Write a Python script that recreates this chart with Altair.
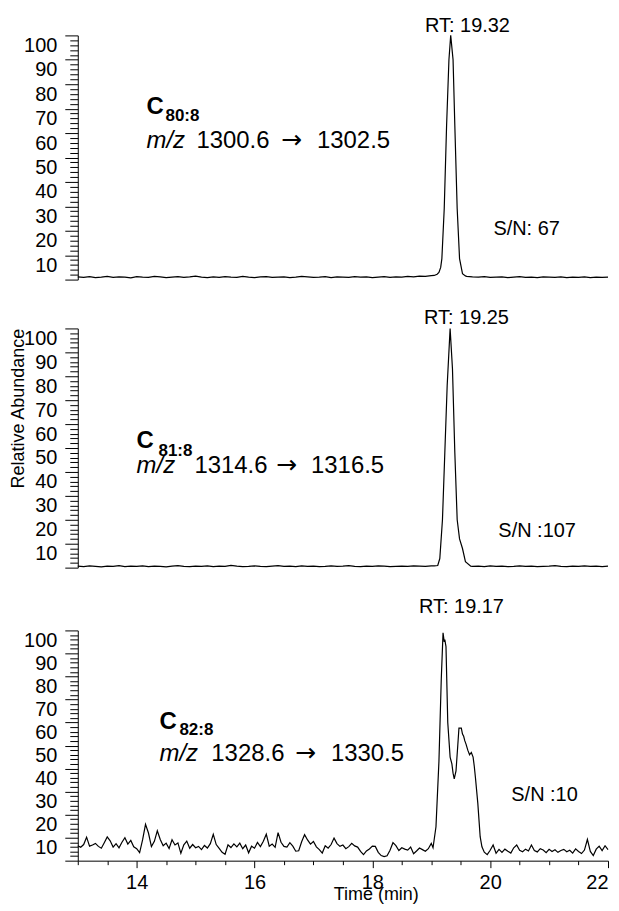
import altair as alt
import pandas as pd

FONT = "Liberation Sans"

# ---------------- data ----------------
# Panel 1: C80:8
top_pre_t = [round(13.0 + 0.1 * i, 2) for i in range(61)]
top_pre_v = [1.1, 0.9, 1.2, 0.8, 1.0, 1.3, 0.9, 1.1, 1.0, 0.7,
             1.2, 1.0, 0.9, 1.3, 1.1, 0.8, 1.0, 1.2, 0.9, 1.1,
             1.4, 1.0, 0.8, 1.1, 0.9, 1.2, 1.0, 0.9, 1.3, 1.0,
             0.8, 1.1, 1.2, 0.9, 1.0, 1.1, 0.8, 1.0, 1.3, 1.1,
             0.9, 1.0, 1.2, 0.8, 1.1, 1.0, 0.9, 1.2, 1.0, 1.1,
             0.8, 1.0, 1.2, 0.9, 1.1, 1.0, 1.3, 1.1, 1.4, 1.3,
             1.6]
top_pk_t = [19.05, 19.10, 19.13, 19.16, 19.18, 19.22, 19.26, 19.30, 19.33,
            19.37, 19.40, 19.44, 19.48, 19.53, 19.58]
top_pk_v = [1.7, 2.2, 2.9, 5.0, 8.6, 29, 63, 90, 100, 90, 63, 29, 8.6, 2.4, 1.5]
top_post_t = [round(19.6 + 0.1 * i, 2) for i in range(25)]
top_post_v = [1.3, 1.1, 1.0, 1.2, 0.9, 1.0, 1.1, 0.8, 1.0, 1.2,
              0.9, 1.0, 0.8, 1.1, 1.0, 0.9, 1.1, 0.8, 1.0, 0.9,
              1.1, 0.8, 1.0, 0.9, 1.0]

# Panel 2: C81:8
mid_pre_t = [round(13.0 + 0.1 * i, 2) for i in range(61)]
mid_pre_v = [0.6, 0.4, 0.7, 0.5, 0.3, 0.6, 0.5, 0.8, 0.4, 0.6,
             0.5, 0.7, 0.4, 0.6, 0.5, 0.3, 0.6, 0.8, 0.5, 0.4,
             0.6, 0.5, 0.7, 0.4, 0.6, 0.5, 0.9, 0.6, 0.4, 0.5,
             0.7, 0.5, 0.4, 0.6, 0.8, 0.5, 0.6, 0.4, 0.7, 0.5,
             0.6, 0.4, 0.5, 0.7, 0.5, 0.6, 0.8, 0.5, 0.4, 0.6,
             0.5, 0.7, 0.6, 0.4, 0.5, 0.6, 0.5, 0.7, 0.6, 0.5,
             0.7]
mid_pk_t = [19.05, 19.11, 19.145, 19.19, 19.23, 19.27, 19.32, 19.36, 19.40,
            19.44, 19.48, 19.53, 19.58, 19.67]
mid_pk_v = [0.7, 0.9, 3.8, 20, 48, 76, 100, 83, 48, 20, 12, 8, 2.5, 0.6]
mid_post_t = [round(19.7 + 0.1 * i, 2) for i in range(24)]
mid_post_v = [0.5, 0.6, 0.4, 0.7, 0.5, 0.6, 0.4, 0.5, 0.7, 0.5,
              0.6, 0.4, 0.5, 0.6, 0.8, 0.5, 0.4, 0.6, 0.5, 0.7,
              0.5, 0.6, 0.4, 0.6]

# Panel 3: C82:8
bot_pre_t = [round(13.0 + 0.05 * i, 2) for i in range(121)]
bot_pre_v = [6.5, 5.8, 7.0, 10.2, 6.3, 6.8, 7.5, 6.2, 5.4, 7.8,
             10.3, 8.6, 5.9, 7.4, 5.6, 8.0, 10.0, 7.2, 8.8, 6.0,
             5.2, 3.5, 9.0, 15.8, 12.0, 6.1, 8.4, 13.0, 9.2, 6.5,
             7.6, 5.3, 9.1, 6.8, 7.7, 3.2, 6.9, 8.5, 5.4, 7.0,
             5.6, 6.2, 4.8, 6.6, 5.5, 7.4, 11.4, 7.0, 5.3, 3.6,
             2.8, 6.9, 5.7, 7.3, 6.0, 7.6, 5.2, 6.8, 3.4, 6.3,
             5.4, 7.9, 6.1, 8.4, 11.5, 6.3, 7.2, 5.8, 12.2, 8.0,
             6.2, 5.9, 7.8, 6.3, 4.1, 4.3, 8.2, 11.3, 9.0, 7.2,
             8.3, 6.0, 4.8, 3.3, 6.5, 5.4, 7.0, 9.8, 7.4, 6.2,
             6.8, 5.2, 6.1, 7.5, 6.4, 5.9, 4.0, 2.6, 4.2, 5.1,
             6.3, 6.2, 3.6, 2.2, 1.8, 2.1, 4.5, 7.8, 6.5, 4.4,
             5.6, 5.0, 4.6, 5.9, 3.0, 4.2, 5.5, 4.8, 4.1, 5.2,
             7.5]
bot_pk_t = [19.03, 19.08, 19.13, 19.17, 19.20, 19.22, 19.23, 19.25, 19.28, 19.32,
            19.35, 19.37, 19.39, 19.42, 19.45, 19.47, 19.51, 19.53, 19.55, 19.57,
            19.59, 19.62, 19.65, 19.68, 19.71, 19.73, 19.75, 19.79, 19.83, 19.86,
            19.90]
bot_pk_v = [5.6, 14.7, 43, 79, 99, 95, 96, 93, 60, 45,
            42, 38, 35.5, 39, 50, 57.6, 57.6, 55, 54, 52,
            50.6, 48, 46, 47, 45, 41, 36, 25, 10.4, 6,
            3.7]
bot_post_t = [round(19.95 + 0.05 * i, 2) for i in range(42)]
bot_post_v = [2.6, 4.5, 6.8, 3.2, 4.9, 3.6, 5.0, 4.1, 3.3, 5.6,
              6.8, 4.5, 3.9, 5.0, 4.2, 6.8, 4.4, 3.8, 5.2, 4.6,
              3.5, 4.9, 4.0, 4.7, 3.6, 4.4, 4.9, 3.9, 4.5, 3.3,
              5.1, 4.0, 3.1, 4.6, 9.2, 4.0, 2.2, 5.0, 6.3, 4.4,
              6.5, 4.8]

# texts
compounds = ["80:8", "81:8", "82:8"]
mz_from = ["1300.6", "1314.6", "1328.6"]
mz_to = ["1302.5", "1316.5", "1330.5"]
rt_labels = ["RT: 19.32", "RT: 19.25", "RT: 19.17"]
sn_labels = ["S/N: 67", "S/N :107", "S/N :10"]

y_major_vals = list(range(10, 101, 10))
y_minor_vals = [v for v in range(2, 100, 2) if v % 10]
x_major_vals = [14, 16, 18, 20, 22]
x_minor_vals = [13 + 0.5 * i for i in range(19) if (13 + 0.5 * i) not in x_major_vals]

# ---------------- chart ----------------
W = 532
XS = alt.Scale(domain=[13, 22], nice=False, zero=False)
YS = alt.Scale(domain=[0, 100], nice=False, zero=False)


def y_major(title=None):
    kw = dict(orient="left", values=y_major_vals, tickSize=13, tickColor="black", tickWidth=1,
              domainColor="black", domainWidth=1, labelPadding=8,
              labelBaseline="top", labelFontSize=20, labelFont=FONT,
              labelColor="black", labelOverlap=False, format="d", grid=False)
    if title:
        kw.update(title=title, titleFontSize=18, titleFont=FONT,
                  titleFontWeight="normal", titleColor="black",
                  titleX=-59, titleY=80, titleAngle=270,
                  titleAlign="center", titleBaseline="middle")
    else:
        kw.update(title=None)
    return alt.Axis(**kw)


y_minor = alt.Axis(orient="left", values=y_minor_vals, tickSize=8, tickColor="black", tickWidth=1,
                   labels=False, domain=False, grid=False, title=None)
y_zero = alt.Axis(orient="left", values=[0], tickSize=13, tickColor="black", tickWidth=1,
                  labels=False, domain=False, grid=False, title=None)

x_major = alt.Axis(orient="bottom", values=x_major_vals, tickSize=7, tickColor="black", tickWidth=1,
                   domainColor="black", domainWidth=1, labelPadding=5,
                   labelFontSize=20, labelFont=FONT, labelColor="black",
                   labelFlush=True, labelOverlap=False, format="d", grid=False,
                   title="Time (min)", titleFontSize=18, titleFont=FONT,
                   titleFontWeight="normal", titleColor="black",
                   titleX=299, titleY=39, titleAlign="center", titleBaseline="alphabetic")
x_minor = alt.Axis(orient="bottom", values=x_minor_vals, tickSize=4, tickColor="black", tickWidth=1,
                   labels=False, domain=False, grid=False, title=None)


def txt(s, x, y, size, weight="normal", style="normal", align="left",
        baseline="alphabetic", font=FONT):
    return alt.Chart(pd.DataFrame({"s": [s]})).mark_text(
        font=font, fontSize=size, fontWeight=weight, fontStyle=style,
        align=align, baseline=baseline, color="black"
    ).encode(x=alt.value(x), y=alt.value(y), text="s:N")


def panel(i, t, v, h, show_x, y_title, pos):
    df = pd.DataFrame({"t": t, "v": v})
    base = alt.Chart(df)
    xa, xb = (x_major, x_minor) if show_x else (None, None)
    line = base.mark_line(color="black", strokeWidth=1.2).encode(
        x=alt.X("t:Q", scale=XS, axis=xa),
        y=alt.Y("v:Q", scale=YS, axis=y_major(y_title)))
    minor = base.mark_line(opacity=0).encode(
        x=alt.X("t:Q", scale=XS, axis=xb),
        y=alt.Y("v:Q", scale=YS, axis=y_minor))
    zero = base.mark_line(opacity=0).encode(
        x=alt.X("t:Q", scale=XS, axis=None),
        y=alt.Y("v:Q", scale=YS, axis=y_zero))
    cx, cy, sx, sy, my, nx, ax, bx, rx, ry, snx, sny = pos
    texts = [
        txt("C", cx, cy, 24, weight="bold"),
        txt(compounds[i], sx, sy, 17, weight="bold"),
        txt("m/z", cx, my, 24, style="italic"),
        txt(mz_from[i], nx, my, 24),
        txt("\u2192", ax, my, 25, font="DejaVu Sans"),
        txt(mz_to[i], bx, my, 24),
        txt(rt_labels[i], rx, ry, 20, align="center", baseline="middle"),
        txt(sn_labels[i], snx, sny, 20, baseline="middle"),
    ]
    return alt.layer(line, minor, zero, *texts).resolve_axis(
        x="independent", y="independent").properties(width=W, height=h)


p1 = panel(0, top_pre_t + top_pk_t + top_post_t, top_pre_v + top_pk_v + top_post_v,
           245, False, None,
           (69, 79, 88, 86, 113, 119, 204, 240, 391, -9, 417, 194))
p2 = panel(1, mid_pre_t + mid_pk_t + mid_post_t, mid_pre_v + mid_pk_v + mid_post_v,
           240, False, "Relative Abundance",
           (59, 120, 81, 128, 145, 117, 199, 234, 390, -10, 422, 203))
p3 = panel(2, bot_pre_t + bot_pk_t + bot_post_t, bot_pre_v + bot_pk_v + bot_post_v,
           231, True, None,
           (82, 99, 102, 105, 131, 134, 218, 254, 385, -23, 435, 165))

chart = alt.vconcat(p1, p2, p3, spacing=28).properties(
    padding={"left": 2, "top": 7, "right": 0, "bottom": 0},
    background="white",
).configure_view(stroke=None)

chart.save("out.html", embed_options={"renderer": "svg", "actions": False})
